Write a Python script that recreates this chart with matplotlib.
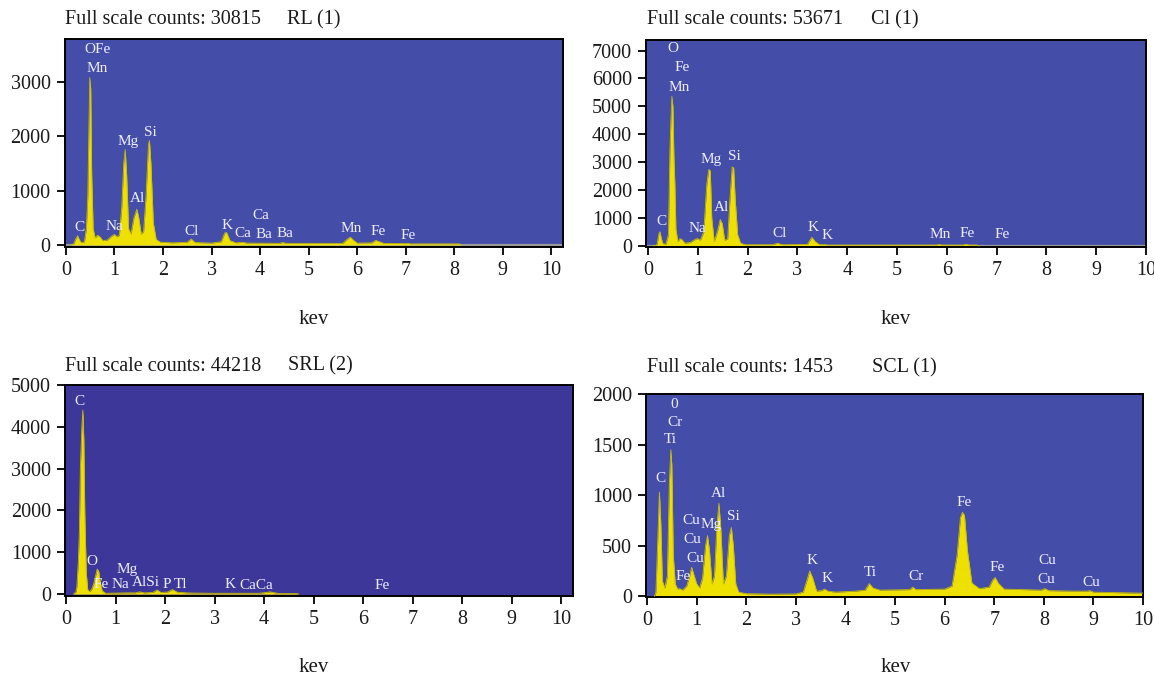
import matplotlib
matplotlib.use("Agg")
import matplotlib.pyplot as plt

plt.rcParams["font.family"] = ["Liberation Serif", "DejaVu Serif"]

W, H = 1154, 675

# ---- RL (1) ----
rl_title = "Full scale counts: 30815"
rl_name = "RL (1)"
rl_kev = [0.10, 0.16, 0.20, 0.24, 0.28, 0.32, 0.38, 0.42, 0.45, 0.47, 0.49, 0.51, 0.53,
          0.56, 0.60, 0.65, 0.70, 0.76, 0.85, 0.95, 1.00, 1.05, 1.10, 1.15, 1.19, 1.22,
          1.25, 1.29, 1.34, 1.40, 1.46, 1.50, 1.55, 1.60, 1.65, 1.70, 1.72, 1.75, 1.80,
          1.86, 1.95, 2.20, 2.50, 2.58, 2.66, 3.00, 3.20, 3.27, 3.31, 3.38, 3.50, 3.65,
          3.72, 4.40, 4.46, 4.55, 5.70, 5.80, 5.86, 5.92, 6.00, 6.30, 6.38, 6.46, 6.55,
          7.00, 7.05, 7.10, 8.10, 8.15]
rl_counts = [0, 20, 110, 170, 90, 40, 60, 300, 900, 2000, 3080, 2880, 1300,
             300, 130, 180, 150, 80, 90, 170, 195, 150, 180, 700, 1500, 1755,
             1300, 300, 200, 500, 660, 500, 200, 250, 900, 1850, 1920, 1500, 400,
             100, 50, 40, 50, 110, 45, 35, 60, 220, 230, 80, 40, 50,
             35, 30, 45, 30, 30, 110, 145, 90, 35, 40, 85, 60, 30,
             25, 30, 20, 20, 0]
rl_labels = ["OFe", "Mn", "Mg", "Si", "Al", "C", "Na", "Cl", "K", "Ca", "Ca", "Ba",
             "Ba", "Mn", "Fe", "Fe"]
rl_label_x = [0.64, 0.65, 1.27, 1.73, 1.48, 0.27, 0.99, 2.59, 3.31, 4.02, 3.65, 4.07,
              4.51, 5.88, 6.43, 7.05]
rl_label_y = [3600, 3250, 1900, 2070, 850, 320, 335, 255, 365, 535, 207, 200,
              207, 305, 255, 170]
rl_yticks = [0, 1000, 2000, 3000]

# ---- Cl (1) ----
cl_title = "Full scale counts: 53671"
cl_name = "Cl (1)"
cl_kev = [0.12, 0.18, 0.22, 0.24, 0.27, 0.30, 0.36, 0.41, 0.44, 0.46, 0.48, 0.50, 0.52,
          0.54, 0.56, 0.60, 0.64, 0.68, 0.74, 0.85, 0.95, 1.00, 1.05, 1.12, 1.18, 1.22,
          1.25, 1.28, 1.33, 1.40, 1.45, 1.49, 1.54, 1.60, 1.65, 1.69, 1.72, 1.75, 1.80,
          1.86, 1.95, 2.50, 2.60, 2.70, 3.20, 3.29, 3.36, 3.45, 3.56, 3.60, 5.80, 5.85,
          5.90, 6.33, 6.38, 6.45, 6.60, 6.65]
cl_counts = [0, 40, 450, 510, 250, 80, 60, 400, 3400, 4500, 5360, 5000, 3200,
             2200, 600, 150, 260, 230, 100, 120, 240, 260, 200, 500, 2200, 2740,
             2700, 1000, 150, 550, 950, 800, 200, 250, 1800, 2830, 2800, 1700, 400,
             100, 40, 40, 95, 40, 50, 310, 150, 40, 45, 30, 30, 50,
             30, 30, 60, 30, 30, 0]
cl_labels = ["O", "Fe", "Mn", "Mg", "Si", "Al", "C", "Na", "Cl", "K", "K", "Mn", "Fe", "Fe"]
cl_label_x = [0.50, 0.69, 0.62, 1.26, 1.73, 1.48, 0.27, 1.00, 2.64, 3.31, 3.60, 5.86,
              6.40, 7.12]
cl_label_y = [7080, 6400, 5690, 3100, 3210, 1370, 880, 620, 440, 670, 380, 405, 440, 405]
cl_yticks = [0, 1000, 2000, 3000, 4000, 5000, 6000, 7000]

# ---- SRL (2) ----
srl_title = "Full scale counts: 44218"
srl_name = "SRL (2)"
srl_kev = [0.15, 0.20, 0.22, 0.25, 0.27, 0.29, 0.32, 0.34, 0.36, 0.38, 0.41, 0.44, 0.48,
           0.52, 0.56, 0.60, 0.63, 0.66, 0.69, 0.73, 0.80, 1.00, 1.25, 1.40, 1.49, 1.58,
           1.75, 1.84, 1.92, 2.05, 2.15, 2.25, 2.45, 2.55, 3.00, 3.50, 3.90, 4.05, 4.12,
           4.20, 4.30, 4.65, 4.70]
srl_counts = [0, 50, 180, 820, 1500, 3000, 4000, 4400, 3700, 1900, 500, 100, 60,
              120, 250, 450, 600, 550, 300, 80, 20, 25, 30, 30, 55, 30,
              40, 100, 40, 50, 110, 45, 30, 25, 20, 20, 20, 40, 55,
              35, 15, 15, 0]
srl_labels = ["C", "O", "Mg", "Fe", "Na", "AlSi", "P", "Tl", "K", "CaCa", "Fe"]
srl_label_x = [0.28, 0.52, 1.24, 0.72, 1.09, 1.61, 2.03, 2.32, 3.32, 3.85, 6.39]
srl_label_y = [4600, 790, 595, 240, 240, 285, 240, 240, 240, 200, 200]
srl_yticks = [0, 1000, 2000, 3000, 4000, 5000]

# ---- SCL (1) ----
scl_title = "Full scale counts: 1453"
scl_name = "SCL (1)"
scl_kev = [0.15, 0.18, 0.22, 0.25, 0.28, 0.31, 0.36, 0.41, 0.45, 0.48, 0.50, 0.53, 0.57,
           0.62, 0.66, 0.72, 0.80, 0.86, 0.90, 0.94, 1.00, 1.06, 1.12, 1.18, 1.22, 1.26,
           1.31, 1.36, 1.41, 1.45, 1.49, 1.54, 1.60, 1.66, 1.70, 1.74, 1.79, 1.85, 2.00,
           2.50, 3.00, 3.15, 3.22, 3.28, 3.34, 3.42, 3.52, 3.58, 3.65, 3.80, 4.20, 4.40,
           4.48, 4.56, 4.70, 5.30, 5.36, 5.42, 6.00, 6.15, 6.25, 6.32, 6.36, 6.40, 6.46,
           6.55, 6.70, 6.90, 6.97, 7.02, 7.08, 7.20, 7.60, 7.95, 8.02, 8.10, 8.60, 8.88,
           8.93, 9.00, 9.50, 10.00]
scl_counts = [0, 40, 600, 1030, 700, 150, 80, 200, 1100, 1450, 1300, 400, 120,
              70, 75, 60, 100, 200, 285, 220, 125, 80, 180, 500, 600, 450,
              120, 200, 700, 920, 650, 120, 200, 600, 680, 500, 120, 40, 25,
              20, 22, 40, 150, 250, 180, 50, 55, 70, 50, 40, 50, 60,
              125, 80, 60, 65, 90, 65, 70, 100, 400, 780, 830, 800, 450,
              130, 75, 90, 160, 185, 130, 70, 65, 60, 75, 55, 50, 50,
              55, 40, 35, 30]
scl_labels = ["0", "Cr", "Ti", "C", "Al", "Si", "Cu", "Mg", "Cu", "Cu", "Fe", "K", "K",
              "Ti", "Cr", "Fe", "Fe", "Cu", "Cu", "Cu"]
scl_label_x = [0.55, 0.56, 0.47, 0.28, 1.45, 1.74, 0.89, 1.29, 0.92, 0.98, 0.73, 3.33,
               3.63, 4.50, 5.43, 6.39, 7.05, 8.06, 8.05, 8.95]
scl_label_y = [1900, 1720, 1545, 1165, 1015, 790, 750, 710, 560, 373, 190, 356,
               178, 231, 198, 927, 284, 356, 165, 139]
scl_yticks = [0, 500, 1000, 1500, 2000]

FILL = "#EEE000"
EDGE = "#C9BC00"
LABEL = "#EEEEFF"
TEXT = "#1a1a1a"


def px_box(left, top, right, bottom):
    return [left / W, 1 - bottom / H, (right - left) / W, (bottom - top) / H]


panels = [
    dict(box=px_box(64.5, 39, 563, 247), bg="#444DA8", xlim=(-0.03, 10.24),
         ylim=(-37, 3790), kev=rl_kev, counts=rl_counts, labels=rl_labels,
         lx=rl_label_x, ly=rl_label_y, yticks=rl_yticks, title=rl_title,
         name=rl_name, tpos=(65, 20), npos=(287, 20), base=True, klab=(314, 319)),
    dict(box=px_box(646, 40, 1146, 247), bg="#444DA8", xlim=(-0.04, 10.0),
         ylim=(-40, 7380), kev=cl_kev, counts=cl_counts, labels=cl_labels,
         lx=cl_label_x, ly=cl_label_y, yticks=cl_yticks, title=cl_title,
         name=cl_name, tpos=(647, 20), npos=(871, 20), base=True, klab=(896, 319)),
    dict(box=px_box(65, 385, 573, 596), bg="#3D3799", xlim=(-0.02, 10.24),
         ylim=(-45, 5000), kev=srl_kev, counts=srl_counts, labels=srl_labels,
         lx=srl_label_x, ly=srl_label_y, yticks=srl_yticks, title=srl_title,
         name=srl_name, tpos=(65, 366), npos=(288, 366), base=False, klab=(314, 667)),
    dict(box=px_box(646, 394, 1143, 597), bg="#444DA8", xlim=(-0.02, 10.0),
         ylim=(-8, 2000), kev=scl_kev, counts=scl_counts, labels=scl_labels,
         lx=scl_label_x, ly=scl_label_y, yticks=scl_yticks, title=scl_title,
         name=scl_name, tpos=(647, 368), npos=(872, 368), base=False, klab=(896, 667)),
]

fig = plt.figure(figsize=(W / 100, H / 100), dpi=100)

for p in panels:
    ax = fig.add_axes(p["box"])
    ax.set_facecolor(p["bg"])
    ax.fill_between(p["kev"], 0, p["counts"], color=FILL, lw=0, zorder=2)
    ax.plot(p["kev"], p["counts"], color=EDGE, lw=0.6, zorder=3)
    if p["base"]:
        ax.axhline(0, color="#9a9a9a", lw=1.6, zorder=1)
    for t, x, y in zip(p["labels"], p["lx"], p["ly"]):
        ax.text(x, y, t, color=LABEL, fontsize=11, ha="center", va="center", zorder=4)
    ax.set_xlim(*p["xlim"])
    ax.set_ylim(*p["ylim"])
    ax.set_xticks(range(0, 11))
    ax.set_yticks(p["yticks"])
    ax.tick_params(direction="out", length=6, width=1.3, colors="black",
                   labelsize=14.5, labelcolor=TEXT, pad=4)
    for s in ax.spines.values():
        s.set_linewidth(1.4)
        s.set_color("black")
    fig.text(p["tpos"][0] / W, 1 - p["tpos"][1] / H, p["title"], fontsize=14.5,
             color=TEXT, ha="left", va="center")
    fig.text(p["npos"][0] / W, 1 - p["npos"][1] / H, p["name"], fontsize=14.5,
             color=TEXT, ha="left", va="center")
    fig.text(p["klab"][0] / W, 1 - p["klab"][1] / H, "kev", fontsize=15,
             color=TEXT, ha="center", va="center")

fig.savefig("out.png", dpi=100)
